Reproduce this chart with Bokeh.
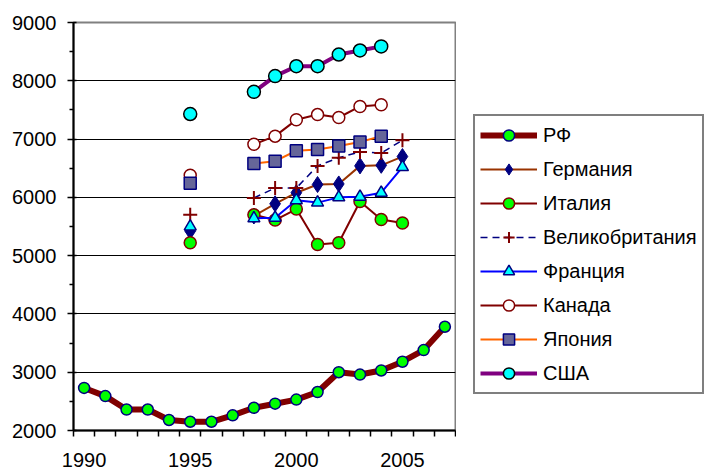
from bokeh.plotting import figure
from bokeh.layouts import row
from bokeh.models import Range1d, FixedTicker, Legend, LegendItem, ColumnDataSource
from bokeh.embed import file_html
from bokeh.resources import INLINE

nan = float("nan")

years = list(range(1990, 2008))
x_labels = [1990, 1995, 2000, 2005]
y_ticks = [2000, 3000, 4000, 5000, 6000, 7000, 8000, 9000]

rf = [2730, 2590, 2360, 2360, 2180, 2150, 2150, 2260, 2390, 2460, 2530, 2660, 3000, 2960, 3030, 3180, 3380, 3780]
germany = [nan, nan, nan, nan, nan, 5420, nan, nan, 5680, 5890, 6080, 6220, 6230, 6540, 6550, 6700, nan, nan]
italy = [nan, nan, nan, nan, nan, 5220, nan, nan, 5700, 5610, 5800, 5190, 5220, 5930, 5620, 5560, nan, nan]
uk = [nan, nan, nan, nan, nan, 5700, nan, nan, 5990, 6160, 6160, 6540, 6680, 6780, 6760, 6980, nan, nan]
france = [nan, nan, nan, nan, nan, 5500, nan, nan, 5640, 5650, 5950, 5910, 6000, 6010, 6080, 6520, nan, nan]
canada = [nan, nan, nan, nan, nan, 6380, nan, nan, 6910, 7050, 7330, 7420, 7370, 7560, 7590, nan, nan, nan]
japan = [nan, nan, nan, nan, nan, 6240, nan, nan, 6580, 6620, 6800, 6820, 6880, 6950, 7050, nan, nan, nan]
usa = [nan, nan, nan, nan, nan, 7430, nan, nan, 7810, 8080, 8250, 8250, 8450, 8520, 8590, nan, nan, nan]

names = ["РФ", "Германия", "Италия", "Великобритания", "Франция", "Канада", "Япония", "США"]
series = [rf, germany, italy, uk, france, canada, japan, usa]

FONT = "Liberation Sans"
H = 469
W_MAIN = 456
W_ALL = 707

p = figure(width=W_MAIN, height=H, output_backend="svg", toolbar_location=None,
           x_range=Range1d(years[0] - 0.5, years[-1] + 0.5),
           y_range=Range1d(y_ticks[0], y_ticks[-1]),
           min_border_left=73, min_border_right=1, min_border_top=22, min_border_bottom=38)
p.background_fill_color = "white"
p.border_fill_color = "white"
p.outline_line_color = "#808080"
p.outline_line_width = 2

# axes
p.xaxis.ticker = FixedTicker(ticks=x_labels, minor_ticks=[y - 0.5 for y in years] + [years[-1] + 0.5])
p.xaxis.major_tick_in = 0
p.xaxis.major_tick_out = 0
p.xaxis.minor_tick_in = 0
p.xaxis.minor_tick_out = 6
p.xaxis.minor_tick_line_width = 1.5
p.xaxis.major_label_standoff = 16
p.xaxis.major_label_text_line_height = 0.7

p.yaxis.ticker = FixedTicker(ticks=y_ticks, minor_ticks=[t + 500 for t in y_ticks[:-1]])
p.yaxis.major_tick_in = 3
p.yaxis.major_tick_out = 6
p.yaxis.minor_tick_in = 0
p.yaxis.minor_tick_out = 4
p.yaxis.major_tick_line_width = 1.5
p.yaxis.minor_tick_line_width = 1.5
p.yaxis.major_label_standoff = 11

for ax in (p.xaxis, p.yaxis):
    ax.axis_line_color = "black"
    ax.axis_line_width = 2
    ax.major_tick_line_color = "black"
    ax.minor_tick_line_color = "black"
    ax.major_label_text_font = FONT
    ax.major_label_text_font_size = "20px"
    ax.major_label_text_color = "black"

p.xgrid.grid_line_color = None
p.ygrid.grid_line_color = "black"
p.ygrid.grid_line_width = 1.2
p.ygrid.ticker = FixedTicker(ticks=y_ticks)

styles = [
    dict(line_color="#800000", line_width=6, line_dash="solid", marker="circle", size=11,
         fill_color="#00FF00", mline="#000080", mwidth=1.5),
    dict(line_color="#993300", line_width=2, line_dash="solid", marker="diamond", size=16,
         fill_color="#000080", mline="#000080", mwidth=1),
    dict(line_color="#800000", line_width=2, line_dash="solid", marker="circle", size=12,
         fill_color="#00FF00", mline="#800000", mwidth=1.5),
    dict(line_color="#000080", line_width=1.5, line_dash="7 5", marker="cross", size=14,
         fill_color=None, mline="#800000", mwidth=2),
    dict(line_color="#0000FF", line_width=2, line_dash="solid", marker="triangle", size=12,
         fill_color="#00FFFF", mline="#000080", mwidth=1.5),
    dict(line_color="#800000", line_width=2, line_dash="solid", marker="circle", size=12,
         fill_color="white", mline="#800000", mwidth=1.5),
    dict(line_color="#FF6600", line_width=2, line_dash="solid", marker="square", size=12,
         fill_color="#666699", mline="#000080", mwidth=1.5),
    dict(line_color="#800080", line_width=4, line_dash="solid", marker="circle", size=13,
         fill_color="#00FFFF", mline="black", mwidth=1.5),
]

# legend panel (separate canvas to the right of the plot area)
lf = figure(width=W_ALL - W_MAIN, height=H, output_backend="svg", toolbar_location=None,
            x_range=Range1d(-10, -9), y_range=Range1d(-10, -9),
            x_axis_location=None, y_axis_location=None,
            min_border_left=0, min_border_right=0, min_border_top=0, min_border_bottom=0)
lf.outline_line_color = None
lf.xgrid.grid_line_color = None
lf.ygrid.grid_line_color = None
lf.background_fill_color = "white"
lf.border_fill_color = "white"

items = []
for name, vals, st in zip(names, series, styles):
    src = ColumnDataSource(dict(x=years, y=vals))
    kw_line = dict(line_color=st["line_color"], line_width=st["line_width"], line_dash=st["line_dash"])
    kw_sc = dict(marker=st["marker"], size=st["size"], fill_color=st["fill_color"],
                 line_color=st["mline"], line_width=st["mwidth"])
    p.line("x", "y", source=src, **kw_line)
    p.scatter("x", "y", source=src, **kw_sc)
    ln = lf.line("x", "y", source=src, **kw_line)
    sc = lf.scatter("x", "y", source=src, **kw_sc)
    items.append(LegendItem(label=name, renderers=[ln, sc]))

legend = Legend(items=items, location=(17, 36))
legend.label_text_font = FONT
legend.label_text_font_size = "20px"
legend.label_text_color = "black"
legend.border_line_color = "black"
legend.border_line_width = 2
legend.background_fill_color = "white"
legend.background_fill_alpha = 1
legend.padding = 5
legend.margin = 0
legend.spacing = 6
legend.glyph_width = 57
legend.glyph_height = 28
legend.label_height = 20
legend.label_standoff = 6
lf.add_layout(legend, "center")

layout = row(p, lf, spacing=0)
open("out.html", "w").write(file_html(layout, INLINE))
